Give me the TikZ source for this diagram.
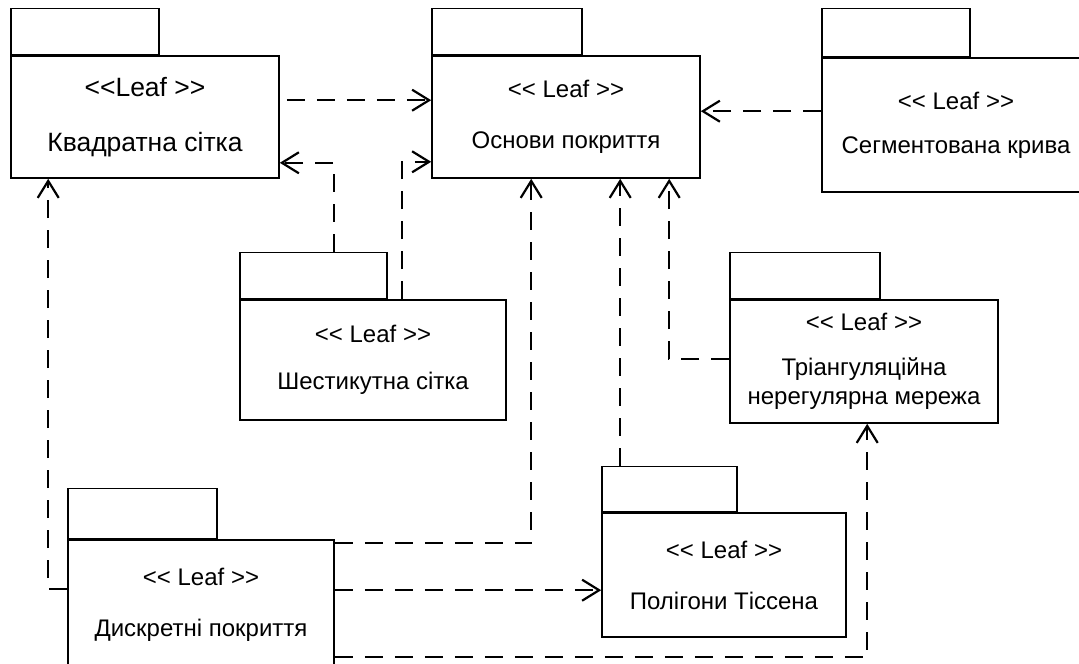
\documentclass[tikz,border=0pt]{standalone}
\usepackage{fontspec}
\newfontfamily\pkgfont{Liberation Sans}
\usetikzlibrary{arrows.meta,positioning}
\tikzset{
  pkgbody/.style={draw=black, line width=1.6pt, fill=white, align=center, inner sep=0pt, font=\pkgfont\fontsize{24}{29}\selectfont},
  bigbody/.style={pkgbody, font=\pkgfont\fontsize{26.5}{32}\selectfont},
  pkgtab/.style={draw=black, line width=1.6pt, fill=white, inner sep=0pt, minimum height=46pt},
  dep/.style={line width=2.2pt, dash pattern=on 18pt off 12pt, -{Straight Barb[length=17pt, width=21pt, line width=2.2pt]}}
}

\begin{document}
\begin{tikzpicture}[x=1pt, y=-1pt]
  \path[fill=white, use as bounding box] (0,0) rectangle (1079,664);

  \node[bigbody, minimum width=268pt, minimum height=122pt] (quad) at (145,117) {<<Leaf >>\\[23pt]Квадратна сітка};
  \node[pkgtab, minimum width=148pt, above right=0pt and 0pt of quad.north west] (quadtab) {};

  \node[pkgbody, minimum width=268pt, minimum height=122pt] (osn) at (566,117) {<< Leaf >>\\[22pt]Основи покриття};
  \node[pkgtab, minimum width=150pt, above right=0pt and 0pt of osn.north west] (osntab) {};

  \node[pkgbody, minimum width=268pt, minimum height=134pt] (seg) at (956,125) {<< Leaf >>\\[15pt]Сегментована крива};
  \node[pkgtab, minimum width=148pt, minimum height=48pt, above right=0pt and 0pt of seg.north west] (segtab) {};

  \node[pkgbody, minimum width=266pt, minimum height=120pt] (hex) at (373,360) {<< Leaf >>\\[18pt]Шестикутна сітка};
  \node[pkgtab, minimum width=147pt, above right=0pt and 0pt of hex.north west] (hextab) {};

  \node[pkgbody, minimum width=268pt, minimum height=123pt] (tin) at (864,361.5) {<< Leaf >>\\[16pt]Тріангуляційна\\нерегулярна мережа};
  \node[pkgtab, minimum width=150pt, above right=0pt and 0pt of tin.north west] (tintab) {};

  \node[pkgbody, minimum width=266pt, minimum height=130pt] (disc) at (201,605) {<< Leaf >>\\[22pt]Дискретні покриття};
  \node[pkgtab, minimum width=149pt, minimum height=50pt, above right=0pt and 0pt of disc.north west] (disctab) {};

  \node[pkgbody, minimum width=244pt, minimum height=124pt] (thies) at (724,575) {<< Leaf >>\\[22pt]Полігони Тіссена};
  \node[pkgtab, minimum width=135pt, minimum height=45pt, above right=0pt and 0pt of thies.north west] (thiestab) {};

  \draw[dep] ([shift={(7pt,-45pt)}]quad.north east) -- ([yshift=-45pt]osn.north west);
  \draw[dep] ([xshift=95pt]hextab.north west) |- ([yshift=16pt]quad.south east);
  \draw[dep] ([xshift=163pt]hex.north west) |- ([yshift=17pt]osn.south west);
  \draw[dep] ([yshift=-54pt]seg.north west) -- ([yshift=-56pt]osn.north east);
  \draw[dep] ([yshift=-50pt]disc.north west) -| ([xshift=38pt]quad.south west);
  \draw[dep] ([yshift=-4pt]disc.north east) -| ([xshift=100pt]osn.south west);
  \draw[dep] ([xshift=19pt]thiestab.north west) -- ([xshift=189pt]osn.south west);
  \draw[dep] ([yshift=-60pt]tin.north west) -| ([xshift=238pt]osn.south west);
  \draw[dep] ([yshift=-51pt]disc.north east) -- ([yshift=-78pt]thies.north west);
  \draw[dep] ([yshift=-118pt]disc.north east) -| ([xshift=138pt]tin.south west);
\end{tikzpicture}
\end{document}
